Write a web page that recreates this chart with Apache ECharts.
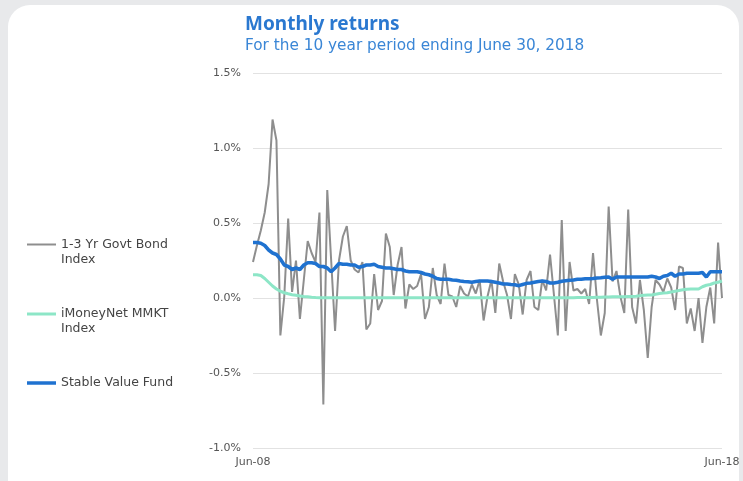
<!DOCTYPE html>
<html><head><meta charset="utf-8">
<script src="https://cdn.jsdelivr.net/npm/echarts@6/dist/echarts.min.js"></script>
<style>
html,body{margin:0;padding:0;width:743px;height:481px;background:#e8e9eb;overflow:hidden;}
#card{position:absolute;left:8px;top:5px;width:731px;height:520px;background:#fff;border-radius:22px;}
#chart{position:absolute;left:0;top:0;width:743px;height:481px;}
</style></head>
<body><div id="card"></div><div id="chart"></div>
<script>
// Data
const years = ['08','09','10','11','12','13','14','15','16','17','18'];
const monthNames = ['Jan','Feb','Mar','Apr','May','Jun','Jul','Aug','Sep','Oct','Nov','Dec'];
const categories = [];
for (let y = 0; y < years.length; y++) {
  for (let m = 0; m < 12; m++) {
    if (y === 0 && m < 5) continue;
    if (y === years.length - 1 && m > 5) continue;
    categories.push(monthNames[m] + '-' + years[y]);
  }
}
const tickLabels = ['Jun-08', 'Jun-18'];
const yTicks = [-1.0, -0.5, 0.0, 0.5, 1.0, 1.5];

const govtBond = [
  0.24,0.35,0.45,0.57,0.76,1.19,1.05,-0.25,0.01,0.53,
  0.04,0.25,-0.14,0.12,0.38,0.30,0.24,0.57,-0.71,0.72,
  0.25,-0.22,0.25,0.41,0.48,0.25,0.19,0.17,0.24,-0.21,
  -0.17,0.16,-0.08,-0.02,0.43,0.34,0.02,0.22,0.34,-0.07,
  0.09,0.06,0.08,0.16,-0.14,-0.06,0.20,0.02,-0.04,0.23,
  0.02,0.01,-0.06,0.08,0.03,0.01,0.09,0.03,0.12,-0.15,
  0.01,0.12,-0.10,0.23,0.11,0.02,-0.14,0.16,0.09,-0.11,
  0.12,0.18,-0.06,-0.08,0.12,0.05,0.29,0.02,-0.25,0.52,
  -0.22,0.24,0.05,0.06,0.03,0.06,-0.04,0.30,-0.01,-0.25,
  -0.10,0.61,0.11,0.18,0.01,-0.10,0.59,-0.06,-0.17,0.12,
  -0.08,-0.40,-0.06,0.12,0.09,0.04,0.13,0.07,-0.08,0.21,
  0.20,-0.17,-0.07,-0.22,0.00,-0.30,-0.06,0.07,-0.17,0.37,
  0.00
];
const mmkt = [
  0.155,0.155,0.15,0.13,0.105,0.08,0.06,0.045,0.035,0.028,
  0.022,0.018,0.014,0.01,0.008,0.005,0.003,0.002,0.002,0.002,
  0.002,0.002,0.001,0.001,0.001,0.001,0.001,0.001,0.001,0.001,
  0.001,0.001,0.001,0.001,0.001,0.001,0.001,0.001,0.001,0.001,
  0.001,0.001,0.001,0.001,0.001,0.001,0.001,0.001,0.001,0.001,
  0.001,0.001,0.001,0.001,0.001,0.001,0.001,0.001,0.001,0.001,
  0.001,0.001,0.001,0.001,0.001,0.001,0.001,0.001,0.001,0.001,
  0.001,0.001,0.001,0.001,0.001,0.001,0.001,0.001,0.001,0.002,
  0.002,0.002,0.002,0.003,0.003,0.003,0.004,0.004,0.005,0.005,
  0.006,0.007,0.008,0.008,0.009,0.009,0.01,0.01,0.012,0.015,
  0.018,0.02,0.02,0.025,0.03,0.033,0.035,0.04,0.045,0.05,
  0.055,0.058,0.06,0.06,0.06,0.075,0.085,0.09,0.10,0.105,
  0.113
];
const stableValue = [
  0.37,0.37,0.365,0.35,0.32,0.30,0.29,0.26,0.22,0.21,
  0.19,0.20,0.19,0.22,0.235,0.235,0.23,0.21,0.21,0.20,
  0.175,0.20,0.23,0.225,0.225,0.22,0.22,0.205,0.21,0.22,
  0.22,0.225,0.21,0.205,0.20,0.20,0.195,0.19,0.19,0.18,
  0.175,0.175,0.175,0.17,0.16,0.155,0.145,0.13,0.125,0.125,
  0.125,0.12,0.118,0.113,0.11,0.108,0.105,0.11,0.113,0.113,
  0.113,0.11,0.105,0.10,0.093,0.093,0.09,0.088,0.082,0.09,
  0.098,0.10,0.105,0.11,0.113,0.11,0.10,0.10,0.105,0.112,
  0.115,0.118,0.12,0.125,0.125,0.128,0.128,0.13,0.133,0.135,
  0.138,0.14,0.125,0.14,0.14,0.14,0.14,0.14,0.14,0.14,
  0.14,0.14,0.145,0.14,0.13,0.145,0.15,0.165,0.145,0.16,
  0.16,0.165,0.165,0.165,0.165,0.17,0.14,0.175,0.175,0.175,
  0.175
];
const seriesNames = ['1-3 Yr Govt Bond\nIndex', 'iMoneyNet MMKT\nIndex', 'Stable Value Fund'];
const seriesColors = ['#8e8e8e', '#8de6c7', '#1f72d0'];

const FONT = 'Noto Sans';
const FONT2 = 'DejaVu Sans';
const chart = echarts.init(document.getElementById('chart'), null, {renderer: 'canvas'});
const legendText = {fontFamily: FONT2, fontSize: 12.5, color: '#444', lineHeight: 15};
const legendBase = {orient: 'vertical', left: 27, padding: 0, itemWidth: 29, icon: 'rect'};
const option = {
  backgroundColor: 'transparent',
  animation: false,
  title: {
    text: 'Monthly returns',
    subtext: 'For the 10 year period ending June 30, 2018',
    left: 245, top: 15, padding: 0, itemGap: 5,
    textStyle: {fontFamily: FONT, fontSize: 19, fontWeight: 'bold', color: '#2a78d0'},
    subtextStyle: {fontFamily: FONT2, fontSize: 15.3, color: '#3a86d6'}
  },
  legend: [
    Object.assign({}, legendBase, {top: 222, itemHeight: 2, data: [seriesNames[0]],
      formatter: n => '\n' + n, textStyle: legendText}),
    Object.assign({}, legendBase, {top: 291.5, itemHeight: 3, data: [seriesNames[1]],
      formatter: n => '\n' + n, textStyle: legendText}),
    Object.assign({}, legendBase, {top: 375.5, itemHeight: 3.5, data: [seriesNames[2]],
      textStyle: legendText})
  ],
  grid: {left: 253, right: 21, top: 73, bottom: 33, containLabel: false},
  xAxis: {
    type: 'category', data: categories, boundaryGap: false,
    axisLine: {show: false}, axisTick: {show: false}, splitLine: {show: false},
    axisLabel: {
      interval: (idx, val) => tickLabels.indexOf(val) >= 0,
      showMinLabel: true, showMaxLabel: true,
      margin: 9, fontFamily: FONT2, fontSize: 11, color: '#555'
    }
  },
  yAxis: {
    type: 'value', min: yTicks[0], max: yTicks[yTicks.length - 1], interval: 0.5,
    axisLine: {show: false}, axisTick: {show: false},
    splitLine: {lineStyle: {color: '#e2e2e2', width: 1}},
    axisLabel: {
      formatter: v => v.toFixed(1) + '%',
      margin: 12, fontFamily: FONT2, fontSize: 11, color: '#555'
    }
  },
  series: [
    {name: seriesNames[0], type: 'line', data: govtBond, symbol: 'none', color: seriesColors[0],
     lineStyle: {width: 2, color: seriesColors[0]}},
    {name: seriesNames[1], type: 'line', data: mmkt, symbol: 'none', color: seriesColors[1],
     lineStyle: {width: 3, color: seriesColors[1]}},
    {name: seriesNames[2], type: 'line', data: stableValue, symbol: 'none', color: seriesColors[2],
     lineStyle: {width: 3.5, color: seriesColors[2]}}
  ]
};
chart.setOption(option);
</script>
</body></html>
